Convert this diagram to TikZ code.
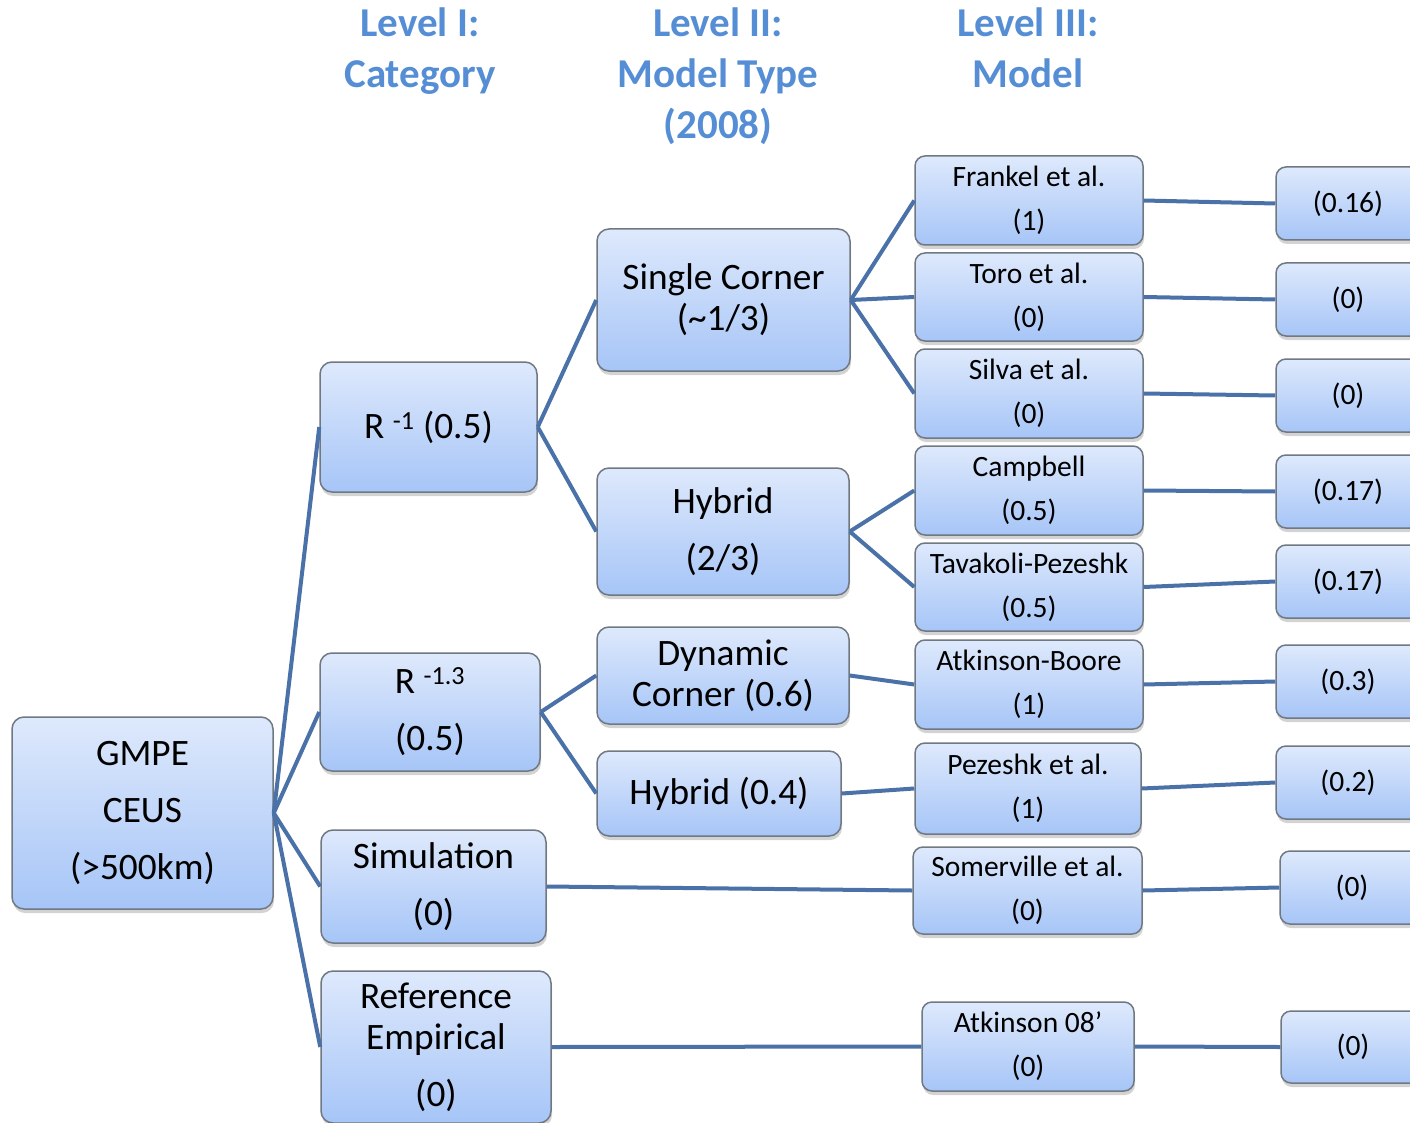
\documentclass[tikz,border=0pt]{standalone}
\usepackage{fontspec}
\setmainfont{Carlito}
\usetikzlibrary{shadows}
\definecolor{boxtop}{RGB}{222,233,252}
\definecolor{boxbot}{RGB}{166,197,247}
\definecolor{boxline}{RGB}{112,120,130}
\definecolor{linkblue}{RGB}{74,114,168}
\definecolor{head}{RGB}{85,142,213}
\tikzstyle{box} = [rectangle, rounded corners=12pt, draw=boxline, line width=1.5pt, top color=boxtop, bottom color=boxbot, align=center, inner sep=0pt, drop shadow={shadow xshift=1pt, shadow yshift=-4pt, opacity=0.35}]
\tikzstyle{big} = [box, font=\fontsize{37.3}{41}\selectfont]
\tikzstyle{small} = [box, rounded corners=10pt, font=\fontsize{29.5}{44}\selectfont]
\tikzstyle{level} = [text=head, align=center, anchor=north, font=\bfseries\fontsize{41}{51}\selectfont]
\tikzstyle{branch} = [draw=linkblue, line width=4pt]
\begin{document}
\begin{tikzpicture}[x=1pt, y=-1pt]
\path[use as bounding box, clip] (0,0) rectangle (1410,1123);

% headers =============================
\node[level] (lev1) at (420,4) {Level I:\\Category};
\node[level] (lev2) at (718,4) {Level II:\\Model Type\\(2008)};
\node[level] (lev3) at (1028,4) {Level III:\\Model};

% root
\node[big, minimum width=261pt, minimum height=192pt] (gmpe) at (142.5,813) {GMPE\\[16pt]CEUS\\[16pt](>500km)};

% level I: category
\node[big, minimum width=217pt, minimum height=130pt] (cat1) at (428.5,427) {R \textsuperscript{-1} (0.5)};
\node[big, minimum width=220pt, minimum height=118pt] (cat2) at (430,712) {R \textsuperscript{-1.3}\\[16pt](0.5)};
\node[big, minimum width=225pt, minimum height=113pt] (cat3) at (433.5,886.5) {Simulation\\[16pt](0)};
\node[big, minimum width=230pt, minimum height=152pt] (cat4) at (436,1047) {Reference\\Empirical\\[16pt](0)};

% level II: model type
\node[big, minimum width=253pt, minimum height=142pt] (type1) at (723.5,300) {Single Corner\\(\textasciitilde 1/3)};
\node[big, minimum width=252pt, minimum height=127pt] (type2) at (723,531.5) {Hybrid\\[16pt](2/3)};
\node[big, minimum width=252pt, minimum height=97pt] (type3) at (723,675.5) {Dynamic\\Corner (0.6)};
\node[big, minimum width=244pt, minimum height=85pt] (type4) at (719,793.5) {Hybrid (0.4)};

% level III: model
\node[small, minimum width=228pt, minimum height=89pt] (mod1) at (1029,200.5) {Frankel et al.\\(1)};
\node[small, minimum width=228pt, minimum height=88pt] (mod2) at (1029,297) {Toro et al.\\(0)};
\node[small, minimum width=228pt, minimum height=89pt] (mod3) at (1029,393.5) {Silva et al.\\(0)};
\node[small, minimum width=228pt, minimum height=89pt] (mod4) at (1029,490.5) {Campbell\\(0.5)};
\node[small, minimum width=228pt, minimum height=88pt] (mod5) at (1029,587) {Tavakoli-Pezeshk\\(0.5)};
\node[small, minimum width=228pt, minimum height=89pt] (mod6) at (1029,684.5) {Atkinson-Boore\\(1)};
\node[small, minimum width=226pt, minimum height=91pt] (mod7) at (1028,788.5) {Pezeshk et al.\\(1)};
\node[small, minimum width=229pt, minimum height=87pt] (mod8) at (1027.5,890.5) {Somerville et al.\\(0)};
\node[small, minimum width=212pt, minimum height=89pt] (mod9) at (1028,1046.5) {Atkinson 08'\\(0)};

% weights
\node[small, minimum width=144pt, minimum height=73pt] (w1) at (1348,203.5) {(0.16)};
\node[small, minimum width=144pt, minimum height=73pt] (w2) at (1348,299.5) {(0)};
\node[small, minimum width=144pt, minimum height=73pt] (w3) at (1348,395.5) {(0)};
\node[small, minimum width=144pt, minimum height=73pt] (w4) at (1348,491.5) {(0.17)};
\node[small, minimum width=144pt, minimum height=73pt] (w5) at (1348,581.5) {(0.17)};
\node[small, minimum width=144pt, minimum height=73pt] (w6) at (1348,681.5) {(0.3)};
\node[small, minimum width=144pt, minimum height=73pt] (w7) at (1348,782.5) {(0.2)};
\node[small, minimum width=144pt, minimum height=73pt] (w8) at (1352,887.5) {(0)};
\node[small, minimum width=144pt, minimum height=72pt] (w9) at (1353,1047) {(0)};

%edges
\path[branch] (gmpe.east) -- (cat1.west);
\path[branch] (gmpe.east) -- (cat2.west);
\path[branch] (gmpe.east) -- (cat3.west);
\path[branch] (gmpe.east) -- (cat4.west);

\path[branch] (cat1.east) -- (type1.west);
\path[branch] (cat1.east) -- (type2.west);
\path[branch] (cat2.east) -- (type3.west);
\path[branch] (cat2.east) -- (type4.west);
\path[branch] (cat3.east) -- (mod8.west);
\path[branch] (cat4.east) -- (mod9.west);

\path[branch] (type1.east) -- (mod1.west);
\path[branch] (type1.east) -- (mod2.west);
\path[branch] (type1.east) -- (mod3.west);
\path[branch] (type2.east) -- (mod4.west);
\path[branch] (type2.east) -- (mod5.west);
\path[branch] (type3.east) -- (mod6.west);
\path[branch] (type4.east) -- (mod7.west);

\foreach \i in {1,...,9}
  \path[branch] (mod\i.east) -- (w\i.west);

\end{tikzpicture}
\end{document}
